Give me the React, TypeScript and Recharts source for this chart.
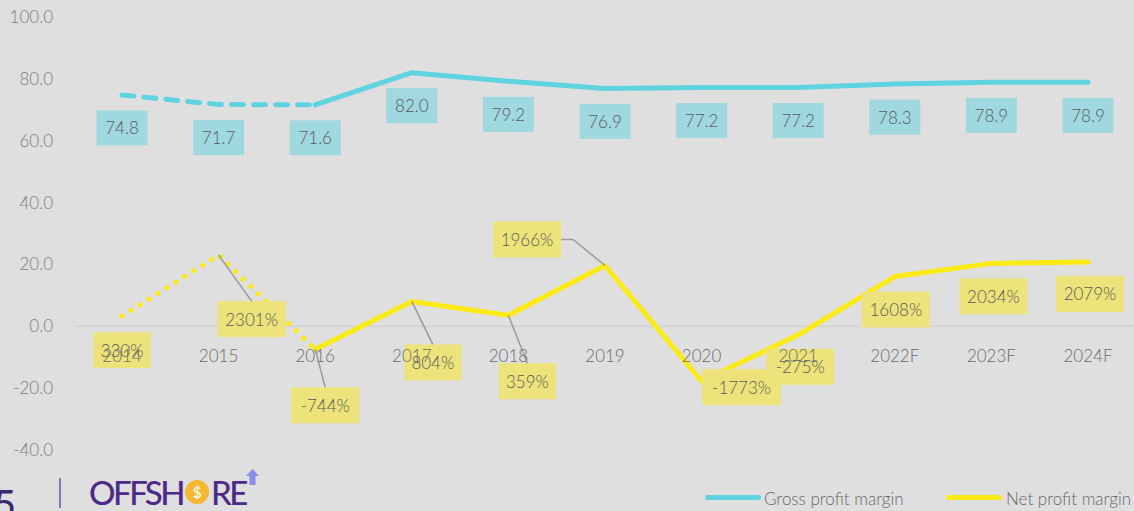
import { LineChart, Line, XAxis, YAxis, ReferenceLine, ReferenceDot } from "recharts";

const years = ["2014", "2015", "2016", "2017", "2018", "2019", "2020", "2021", "2022F", "2023F", "2024F"];
const grossMargin = [74.8, 71.7, 71.6, 82.0, 79.2, 76.9, 77.2, 77.2, 78.3, 78.9, 78.9];
const netMargin = [3.3, 23.01, -7.44, 8.04, 3.59, 19.66, -17.73, -2.75, 16.08, 20.34, 20.79];
const yTicks = [-40, -20, 0, 20, 40, 60, 80, 100];
const seriesNames = ["Gross profit margin", "Net profit margin"];
// first years are drawn dashed / dotted
const historicalCount = 3;

const colors = {
  bg: "#dfdfdf",
  gross: "#5fd3e0",
  net: "#fbea16",
  grossBox: "#9fd8df",
  netBox: "#ece47a",
  text: "#5a5a5a",
  axis: "#7c7c7c",
  leader: "#9a9a9a",
  zero: "#d4d4d4",
};
const font = "Lato, 'Open Sans', sans-serif";
const weight = 300;

// where each net label box sits relative to its point
const netLabelPos = [
  { dx: 0, dy: 34, leader: "" },
  { dx: 33, dy: 64, leader: "top" },
  { dx: 10, dy: 56, leader: "top" },
  { dx: 21, dy: 61, leader: "top" },
  { dx: 19, dy: 66, leader: "top" },
  { dx: -78, dy: -26, leader: "elbow" },
  { dx: 40, dy: 6, leader: "" },
  { dx: 2, dy: 32, leader: "" },
  { dx: 1, dy: 33, leader: "" },
  { dx: 2, dy: 33, leader: "" },
  { dx: 2, dy: 32, leader: "" },
];

const data = years.map((year, i) => ({
  year,
  gross: grossMargin[i],
  net: netMargin[i],
  grossHist: i < historicalCount ? grossMargin[i] : null,
  grossMain: i >= historicalCount - 1 ? grossMargin[i] : null,
  netHist: i < historicalCount ? netMargin[i] : null,
  netMain: i >= historicalCount - 1 ? netMargin[i] : null,
}));

const GrossLabel = (props: any) => {
  const { cx, cy, index, value } = props;
  if (value == null) return null;
  const w = 51;
  const h = 35;
  const y = cy + 33;
  return (
    <g key={`g${index}`}>
      <rect x={cx - w / 2} y={y - h / 2} width={w} height={h} fill={colors.grossBox} />
      <text x={cx} y={y} textAnchor="middle" dominantBaseline="central" fill={colors.text} fontSize={17} fontFamily={font} fontWeight={weight}>
        {value.toFixed(1)}
      </text>
    </g>
  );
};

const NetLabel = (props: any) => {
  const { cx, cy, index, value } = props;
  if (value == null) return null;
  const label = `${Math.round(value * 100)}%`;
  const pos = netLabelPos[index];
  const w = 14 + 10.8 * label.length;
  const h = 36;
  const x = cx + pos.dx;
  const y = cy + pos.dy;
  let leader = null;
  if (pos.leader === "top") {
    leader = <line x1={cx} y1={cy} x2={x} y2={y - h / 2} stroke={colors.leader} strokeWidth={1.5} />;
  } else if (pos.leader === "elbow") {
    const ex = x + w / 2;
    leader = (
      <polyline points={`${ex},${y} ${ex + 12},${y} ${cx},${cy}`} fill="none" stroke={colors.leader} strokeWidth={1.5} />
    );
  }
  return (
    <g key={`n${index}`}>
      <rect x={x - w / 2} y={y - h / 2} width={w} height={h} fill={colors.netBox} />
      {leader}
      <text x={x} y={y} textAnchor="middle" dominantBaseline="central" fill={colors.text} fontSize={17} fontFamily={font} fontWeight={weight}>
        {label}
      </text>
    </g>
  );
};

const YearLabel = (props: any) => (
  <text x={props.cx} y={props.cy + 29} textAnchor="middle" dominantBaseline="central" fill="#6b6b6b" fontSize={17} fontFamily={font} fontWeight={weight}>
    {props.year}
  </text>
);

export default function App() {
  return (
    <div
      style={{
        position: "absolute",
        left: 0,
        top: 0,
        width: 1134,
        height: 511,
        overflow: "hidden",
        background: colors.bg,
      }}
    >
      <LineChart width={1136} height={511} data={data} margin={{ top: 17, right: 0, bottom: 61, left: 0 }}>
        <XAxis dataKey="year" hide padding={{ left: 48, right: 48 }} />
        <YAxis
          domain={[-40, 100]}
          ticks={yTicks}
          width={74}
          axisLine={false}
          tickLine={false}
          tickSize={0}
          tickMargin={21}
          tickFormatter={(v: number) => v.toFixed(1)}
          tick={{ fill: colors.axis, fontSize: 17, fontFamily: font, fontWeight: weight }}
        />
        <ReferenceLine y={0} stroke={colors.zero} strokeWidth={2} />
        <Line dataKey="gross" stroke="none" dot={GrossLabel} activeDot={false} legendType="none" isAnimationActive={false} />
        <Line dataKey="net" stroke="none" dot={NetLabel} activeDot={false} legendType="none" isAnimationActive={false} />
        {years.map((year) => (
          <ReferenceDot key={year} x={year} y={0} r={0} shape={(p: any) => <YearLabel {...p} year={year} />} />
        ))}
        <Line
          dataKey="grossHist"
          stroke={colors.gross}
          strokeWidth={5}
          strokeDasharray="12 10"
          strokeLinecap="round"
          dot={false}
          activeDot={false}
          isAnimationActive={false}
        />
        <Line
          dataKey="grossMain"
          stroke={colors.gross}
          strokeWidth={5}
          strokeLinecap="round"
          strokeLinejoin="round"
          dot={false}
          activeDot={false}
          isAnimationActive={false}
        />
        <Line
          dataKey="netHist"
          stroke={colors.net}
          strokeWidth={5}
          strokeDasharray="0.1 10.5"
          strokeLinecap="round"
          dot={false}
          activeDot={false}
          isAnimationActive={false}
        />
        <Line
          dataKey="netMain"
          stroke={colors.net}
          strokeWidth={5}
          strokeLinecap="round"
          strokeLinejoin="round"
          dot={false}
          activeDot={false}
          isAnimationActive={false}
        />
      </LineChart>

      {/* legend */}
      <div style={{ position: "absolute", left: 705, top: 495, width: 56, height: 5, borderRadius: 3, background: colors.gross }} />
      <div style={{ position: "absolute", left: 764, top: 488, fontSize: 17, lineHeight: "22px", color: "#666", fontFamily: font, fontWeight: weight, whiteSpace: "nowrap" }}>
        {seriesNames[0]}
      </div>
      <div style={{ position: "absolute", left: 946, top: 495, width: 56, height: 5, borderRadius: 3, background: colors.net }} />
      <div style={{ position: "absolute", left: 1006, top: 488, fontSize: 17, lineHeight: "22px", color: "#666", fontFamily: font, fontWeight: weight, whiteSpace: "nowrap" }}>
        {seriesNames[1]}
      </div>

      {/* footer logo */}
      <div style={{ position: "absolute", left: -7, top: 484, fontSize: 40, lineHeight: "40px", color: "#3a2a6e", fontFamily: font }}>5</div>
      <div style={{ position: "absolute", left: 59, top: 478, width: 2, height: 30, background: "#8279b8" }} />
      <div
        style={{
          position: "absolute",
          left: 89,
          top: 475,
          fontSize: 33,
          lineHeight: "34px",
          color: "#4b2a8a",
          fontFamily: font,
          fontWeight: 500,
          letterSpacing: -2.5,
          whiteSpace: "nowrap",
          display: "flex",
          alignItems: "center",
        }}
      >
        <span>OFFSH</span>
        <span
          style={{
            display: "inline-block",
            width: 24,
            height: 24,
            borderRadius: 12,
            background: "#f6b733",
            color: "#fff",
            fontSize: 16,
            lineHeight: "24px",
            textAlign: "center",
            letterSpacing: 0,
            margin: "0 2px",
          }}
        >
          $
        </span>
        <span>RE</span>
      </div>
      <svg style={{ position: "absolute", left: 246, top: 469 }} width={13} height={16}>
        <polygon points="6.5,0 13,7 9.5,7 9.5,16 3.5,16 3.5,7 0,7" fill="#8a8ee8" />
      </svg>
    </div>
  );
}
